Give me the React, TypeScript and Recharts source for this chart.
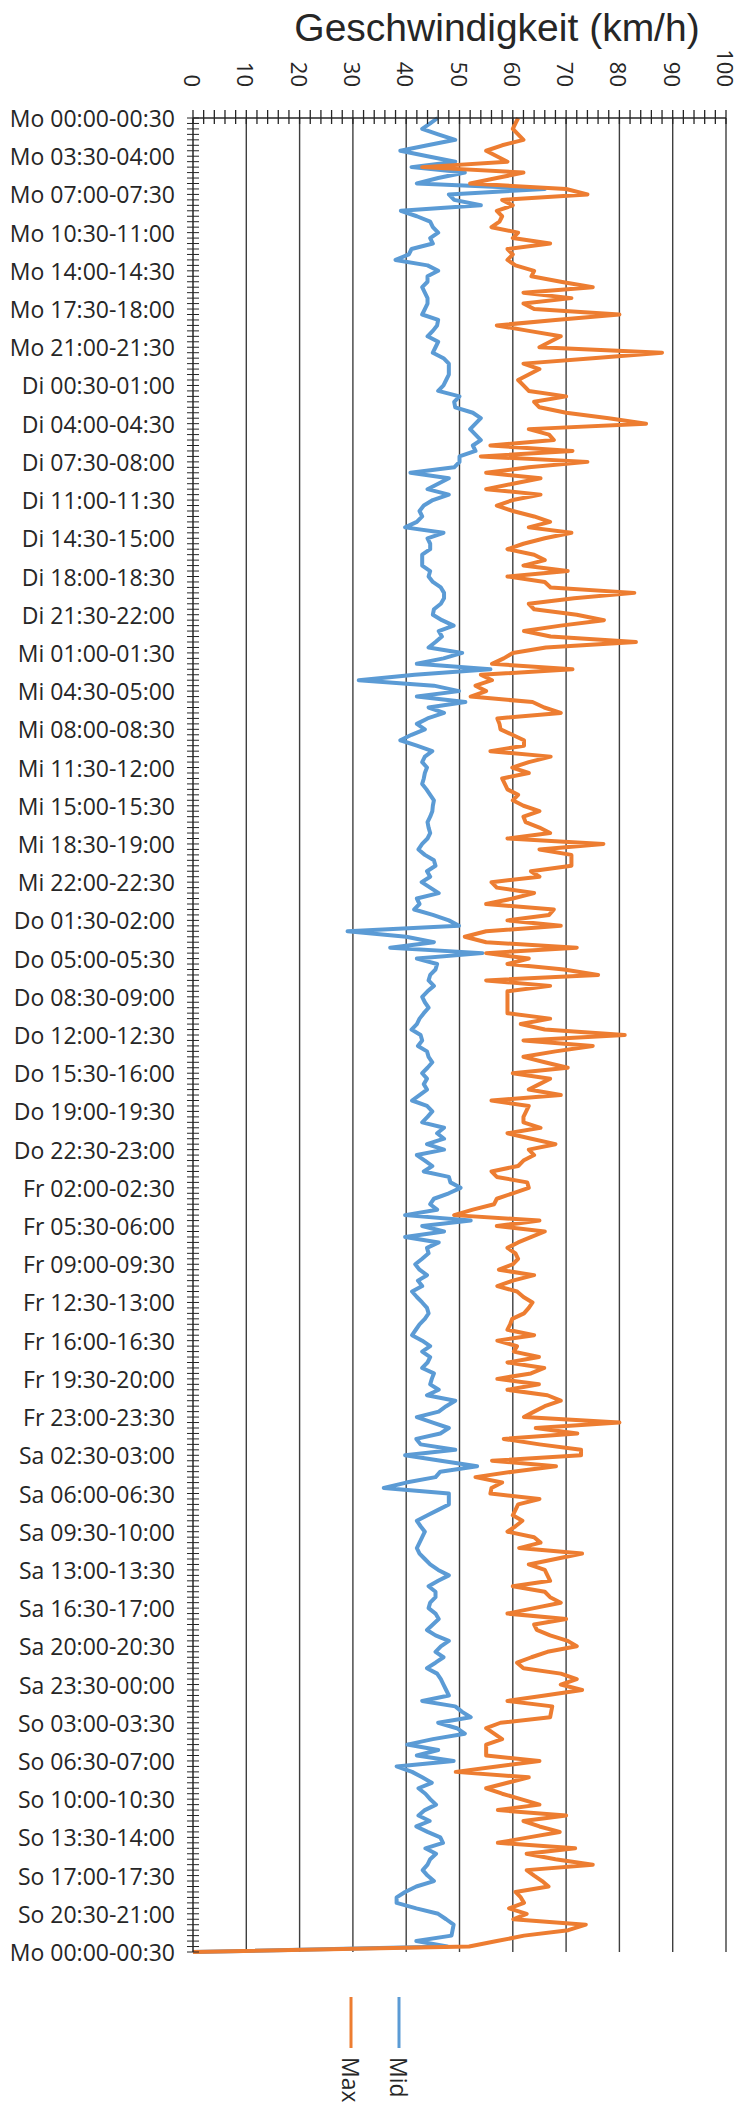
import { Legend, Line, LineChart, ReferenceLine, XAxis, YAxis } from "recharts";

// Half-hour slots, Monday 00:00 to Sunday 23:30, then the closing Monday slot.
const DAYS = ["Mo", "Di", "Mi", "Do", "Fr", "Sa", "So"];
const CLOSING_DAY = "Mo";

// Mid speed (km/h) per day, 48 half-hour values each
const midMo = [45.9, 44.5, 43, 46, 49.2, 44, 38.9, 44, 49.2, 41, 51, 46, 42, 66, 48, 49, 54, 39, 42, 44.5, 45, 46, 44.5, 45, 41, 40.5, 38, 44, 46, 44, 44, 43, 43.5, 44, 44, 43.5, 43, 46, 45.8, 45, 44, 46, 45.5, 45, 47, 48, 48, 48];
const midDi = [47.5, 47, 46, 50, 49, 49.2, 52.5, 54, 53, 52, 53, 54, 52.5, 53, 50, 50, 49, 40.8, 48, 46, 44, 48, 45, 43.3, 42.5, 43, 42, 39.8, 47, 44, 44.5, 44.5, 43, 43, 43, 44.5, 44.2, 45, 46.5, 47.1, 47.1, 46.5, 45.2, 45, 46.7, 48.9, 46.1, 46.7];
const midMi = [45.5, 44.2, 50.5, 47, 42, 55.8, 41.6, 31.1, 45.2, 49.9, 42, 51.1, 44.2, 47.1, 44, 42, 43.5, 41, 38.9, 42, 44.9, 43.5, 43, 43.9, 43.5, 43.3, 43, 43.8, 44.5, 45.2, 45, 44.9, 44.5, 44, 44.2, 44.5, 44, 43, 42.3, 43.5, 45.2, 45.5, 43.9, 44.5, 42.9, 44.5, 46.1, 42];
const midDo = [42.5, 41.5, 45, 48, 49.9, 29, 40, 45.2, 37, 54.3, 42, 45.8, 45.5, 44.5, 44.2, 45.2, 44, 43, 43.5, 44.2, 43.3, 42.5, 42, 41, 42.7, 43, 42.2, 43.9, 44.2, 44.9, 44, 43, 43.9, 43.3, 43.9, 42.5, 41.1, 43.9, 44.9, 44, 43, 47.1, 45.8, 47.1, 43.9, 47.1, 42, 43.5];
const midFr = [44.9, 43.3, 48, 48.3, 50.2, 48, 45.2, 44.5, 45.8, 39.8, 52.1, 43, 47.1, 39.8, 46.1, 43.9, 44.2, 43, 41.7, 42.5, 43.9, 42.2, 43, 41.1, 42, 43, 43.9, 44.2, 43.5, 42.5, 41.8, 41.1, 43, 44.5, 43, 44.5, 44, 43, 45.2, 44.8, 44.5, 46.1, 43.9, 49.2, 47.5, 46.1, 42, 45];
const midSa = [48, 46.4, 41.9, 42.7, 49.2, 39.8, 46.5, 53.3, 46.4, 45.5, 40, 35.8, 48, 48, 48, 46, 44, 42, 42.7, 43.5, 43, 42.5, 42, 42.5, 43.5, 44.5, 46, 48, 46, 44.2, 45.5, 45.5, 44.5, 44.2, 45.5, 46.1, 45, 43.9, 45.5, 48, 46.5, 45.5, 47, 45.5, 43.9, 45.8, 46.5, 47];
const midSo = [47.5, 48, 43, 49.2, 50.5, 52.1, 46, 49.5, 51, 45, 40.2, 46, 42, 48.9, 38.2, 41.1, 43, 44.8, 42.3, 43.6, 44.5, 45.6, 43.5, 42.3, 44.4, 41.9, 44, 46.4, 46.9, 43.6, 45.6, 44.5, 44, 43.1, 44, 45.2, 41.9, 39.8, 38.2, 38.2, 41.9, 46, 47.5, 48.9, 48.7, 48.5, 41.9, 47.7];
const midClosing = 0;

// Max speed (km/h) per day
const maxMo = [61, 60.5, 60, 61, 62, 58, 55, 57, 59, 43, 62, 57, 52, 70, 74, 58, 60, 57, 58, 57.5, 56, 61, 60, 67, 59, 60, 59, 60.5, 64, 63.5, 69, 75, 62, 71, 62, 64, 80, 68, 57, 63, 69, 67, 65, 88, 75, 62, 65, 63];
const maxDi = [61, 62, 63, 70, 64, 65, 70, 78, 85, 63, 66.8, 67.7, 55.8, 71.2, 54, 74, 63, 55, 65.2, 60, 55, 65.2, 60, 57, 60, 64, 67, 63, 71, 66, 62, 59, 64, 66, 62, 70.3, 59, 66, 67.1, 82.8, 71.5, 63, 64, 72, 77.1, 69, 62.1, 67.1];
const maxMi = [83.1, 66.2, 60, 58.3, 56.1, 71.2, 54, 56.1, 53, 55, 52.1, 63.7, 65.9, 69, 57.1, 57.5, 57.7, 59.9, 62.1, 62.1, 55.8, 67.1, 63, 59.9, 63, 58, 58.5, 59, 61, 60, 62, 65, 62, 62.4, 65, 67, 59, 77, 65, 71, 71, 71, 63.4, 65, 56, 57, 64, 60];
const maxDo = [55, 67.7, 66.8, 59, 69, 55, 51, 55, 72, 55, 63, 59, 69.6, 76, 55, 67, 59, 59, 59, 59, 59, 67, 61.5, 66, 81, 62, 75, 68, 62, 66, 70.3, 60, 67, 65, 63, 69, 56, 63, 62.5, 62, 62, 65.2, 59, 63.5, 68, 63, 64, 62];
const maxFr = [61, 56, 57, 62.7, 63, 60, 57, 56.5, 52.5, 49, 65, 57, 66, 63.5, 61, 59, 60.5, 61, 60, 57.4, 64, 60, 57.1, 60.8, 62, 63.7, 63, 62.1, 59.9, 59.5, 59, 64, 57.1, 60.8, 60.2, 64.9, 59, 65.9, 63.4, 57.1, 64.9, 59, 66.5, 69, 66, 64, 62.1, 80];
const maxSa = [64.3, 72.1, 58.3, 65, 72.8, 72.8, 56.1, 68.1, 60, 53, 58, 56, 55.8, 65, 61, 60.5, 60, 61.8, 60.5, 59, 64, 65.2, 61.2, 73, 68, 63, 66, 66.5, 67, 60, 66, 67, 69, 64, 59, 70, 64, 64.5, 67, 70.3, 72, 66.5, 63.5, 60.8, 62, 69, 72, 69];
const maxSo = [73, 66, 59, 67.4, 67.2, 67, 57.7, 55, 56.5, 58, 55, 55, 55, 65, 57, 49.3, 63, 59, 55, 58, 61.5, 65, 57.2, 70, 62, 65, 68.8, 63, 57.2, 71.7, 62.6, 68, 75, 62.6, 64, 65.5, 66.7, 60.5, 61.5, 62.1, 59.3, 62.6, 60.1, 73.7, 70.4, 62.1, 57, 51.8];
const maxClosing = 0;

const SPEED_TICKS = [0, 10, 20, 30, 40, 50, 60, 70, 80, 90, 100];
const GRID_VALUES = [10, 20, 30, 40, 50, 60, 70, 80, 90, 100];
const LABEL_EVERY = 7;

const BLUE = "#5B9BD5";
const ORANGE = "#ED7D31";
const INK = "#262626";
const GRID = "#3f3f3f";
const LABEL_FONT = "'Open Sans', 'Noto Sans', sans-serif";

function hhmm(minutes: number) {
  const m = minutes % (24 * 60);
  const h = Math.floor(m / 60);
  return `${String(h).padStart(2, "0")}:${String(m % 60).padStart(2, "0")}`;
}

const slotLabels: string[] = [];
DAYS.forEach((d) => {
  for (let s = 0; s < 48; s++) slotLabels.push(`${d} ${hhmm(s * 30)}-${hhmm(s * 30 + 30)}`);
});
slotLabels.push(`${CLOSING_DAY} 00:00-00:30`);

const midAll = [...midMo, ...midDi, ...midMi, ...midDo, ...midFr, ...midSa, ...midSo, midClosing];
const maxAll = [...maxMo, ...maxDi, ...maxMi, ...maxDo, ...maxFr, ...maxSa, ...maxSo, maxClosing];

const rows = slotLabels.map((label, i) => ({ slot: i, label, mid: midAll[i], max: maxAll[i] }));

const minorTicks: number[] = [];
for (let v = 0; v <= 100; v += 2) minorTicks.push(v);

function SpeedTick(props: any) {
  const { x, y, payload } = props;
  const v = payload.value as number;
  const labelEnd = y - 31;
  return (
    <g>
      <line x1={x} x2={x} y1={y - 8} y2={y + 6} stroke={INK} strokeWidth={1.3} />
      {SPEED_TICKS.includes(v) ? (
        <text
          x={x}
          y={labelEnd}
          transform={`rotate(90, ${x}, ${labelEnd})`}
          textAnchor="end"
          dominantBaseline="central"
          fill={INK}
          fontSize={22}
          fontFamily={LABEL_FONT}
        >
          {v}
        </text>
      ) : null}
    </g>
  );
}

function SlotTick(props: any) {
  const { x, y, payload } = props;
  const i = payload.value as number;
  return (
    <g>
      <line x1={x - 6} x2={x + 6} y1={y} y2={y} stroke={INK} strokeWidth={1} />
      {i % LABEL_EVERY === 0 ? (
        <text
          x={x - 18}
          y={y}
          textAnchor="end"
          dominantBaseline="central"
          fill={INK}
          fontSize={23}
          fontFamily={LABEL_FONT}
        >
          {slotLabels[i]}
        </text>
      ) : null}
    </g>
  );
}

function TitleLabel() {
  return (
    <text
      x={497}
      y={41}
      textAnchor="middle"
      fill={INK}
      fontSize={39}
      fontFamily="'Liberation Sans', Arial, sans-serif"
    >
      Geschwindigkeit (km/h)
    </text>
  );
}

function RotatedLegend(props: any) {
  const items = [...(props.payload ?? [])];
  const order = ["Max", "Mid"];
  items.sort((a: any, b: any) => order.indexOf(a.value) - order.indexOf(b.value));
  return (
    <svg width={120} height={118} style={{ overflow: "visible" }}>
      {items.map((p: any, k: number) => {
        const x = 26 + k * 48;
        return (
          <g key={String(p.value)}>
            <line x1={x} x2={x} y1={12} y2={63} stroke={p.color} strokeWidth={3} />
            <text
              x={x}
              y={72}
              transform={`rotate(90, ${x}, 72)`}
              dominantBaseline="central"
              fill={INK}
              fontSize={23}
              fontFamily={LABEL_FONT}
            >
              {p.value}
            </text>
          </g>
        );
      })}
    </svg>
  );
}

export default function App() {
  return (
    <div style={{ width: 746, height: 2103, position: "relative", background: "#fff" }}>
      <style>{"body{margin:0}"}</style>
      <LineChart
        width={746}
        height={2103}
        data={rows}
        layout="vertical"
        margin={{ top: 0, right: 20, bottom: 151, left: 0 }}
      >
        <XAxis
          type="number"
          orientation="top"
          domain={[0, 100]}
          ticks={minorTicks}
          interval={0}
          height={118}
          tickSize={0}
          tickMargin={0}
          tick={<SpeedTick />}
          axisLine={{ stroke: INK, strokeWidth: 1.5 }}
          label={{ content: <TitleLabel /> }}
        />
        <YAxis
          type="category"
          dataKey="slot"
          scale="point"
          width={193}
          interval={0}
          tickSize={0}
          tickMargin={0}
          tick={<SlotTick />}
          axisLine={{ stroke: INK, strokeWidth: 1.5 }}
          padding={{ top: 0, bottom: 0 }}
        />
        {GRID_VALUES.map((g) => (
          <ReferenceLine key={g} x={g} stroke={GRID} strokeWidth={1.4} />
        ))}
        <Line
          dataKey="mid"
          name="Mid"
          stroke={BLUE}
          strokeWidth={4}
          strokeLinejoin="round"
          dot={false}
          activeDot={false}
          isAnimationActive={false}
        />
        <Line
          dataKey="max"
          name="Max"
          stroke={ORANGE}
          strokeWidth={4}
          strokeLinejoin="round"
          dot={false}
          activeDot={false}
          isAnimationActive={false}
        />
        <Legend
          layout="vertical"
          align="center"
          verticalAlign="middle"
          wrapperStyle={{ left: 325, top: 1985, width: 120, height: 118 }}
          content={<RotatedLegend />}
        />
      </LineChart>
    </div>
  );
}
